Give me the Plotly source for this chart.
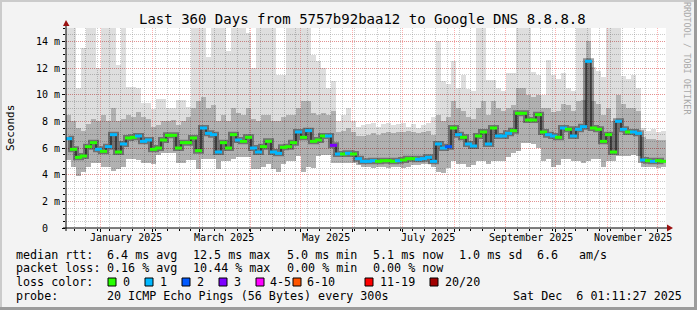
import plotly.graph_objects as go
import pandas as pd

# ---------------- data ----------------
END = pd.Timestamp("2025-12-06 01:11:27")
START = END - pd.Timedelta(days=360)
BIN_DAYS = 3
centers = pd.date_range(START + pd.Timedelta(days=1.5), periods=120, freq="3D")

median_ms = [
    6.7, 5.9, 5.3, 5.4, 6.1, 6.4, 5.9, 5.75, 6.1, 7.0,
    5.7, 6.3, 6.75, 6.8, 6.9, 6.5, 6.6, 5.9, 6.0, 6.6,
    6.95, 6.95, 6.0, 6.4, 6.4, 6.75, 5.8, 7.5, 7.1, 7.0,
    5.7, 6.4, 6.0, 7.0, 6.6, 6.5, 6.8, 6.0, 5.7, 6.1,
    6.5, 5.7, 5.6, 6.05, 6.1, 6.4, 7.2, 6.8, 7.3, 6.5,
    6.6, 6.9, 6.9, 6.2, 5.55, 5.55, 5.6, 5.55, 5.2, 5.0,
    5.0, 5.05, 5.0, 5.05, 5.05, 5.0, 5.05, 5.1, 5.2, 5.2,
    5.15, 5.2, 5.3, 5.0, 6.3, 6.0, 6.1, 7.5, 7.0, 6.8,
    6.3, 6.15, 6.9, 7.2, 6.3, 7.5, 6.9, 6.9, 7.1, 7.3,
    8.6, 8.6, 8.1, 8.1, 8.5, 7.2, 7.0, 6.9, 6.8, 7.5,
    7.4, 6.9, 7.4, 7.6, 12.5, 7.5, 7.4, 6.5, 7.0, 5.7,
    8.0, 7.4, 7.2, 7.2, 7.1, 5.1, 5.05, 5.0, 5.05, 5.0,
]

smoke_max = [
    15, 15, 10.5, 13.5, 15, 15, 12.0, 15, 15, 15,
    12.2, 15, 10.6, 10.6, 10.5, 9.4, 9.4, 8.9, 9.7, 9.7,
    9.0, 9.0, 9.6, 9.6, 9.1, 15, 15, 15, 12.8, 15,
    15, 15, 13.3, 15, 15, 15, 14.6, 12.0, 15, 15,
    15, 15, 11.5, 11.5, 15, 15, 15, 15, 15, 13.0,
    12.5, 12.0, 10.5, 11.0, 8.0, 8.5, 9.0, 8.0, 7.6, 7.7,
    7.8, 7.9, 7.6, 7.8, 7.9, 7.7, 7.8, 7.9, 7.6, 7.8,
    7.5, 7.7, 7.9, 8.3, 14.0, 11.0, 10.8, 12.5, 10.5, 11.5,
    10.4, 10.3, 15, 15, 11.1, 11.1, 10.5, 10.3, 11.6, 11.6,
    15, 15, 15, 11.7, 11.5, 10.0, 12.6, 11.5, 11.2, 11.6,
    10.5, 10.3, 15, 15, 15, 12.1, 11.8, 11.3, 15, 15,
    15, 11.4, 11.2, 11.5, 10.5, 7.5, 7.3, 7.4, 7.2, 7.3,
]

smoke_upper = [
    8.5, 8.0, 7.5, 7.3, 7.8, 8.2, 8.0, 8.5, 8.0, 9.0,
    8.0, 8.2, 8.5, 8.3, 8.7, 8.3, 8.2, 7.6, 7.7, 8.0,
    8.0, 8.1, 7.7, 8.0, 8.3, 9.0, 9.5, 9.8, 9.0, 9.2,
    8.0, 8.5, 8.0, 9.0, 8.6, 8.5, 9.0, 8.2, 8.0, 8.5,
    8.5, 8.0, 8.0, 8.3, 8.5, 8.5, 9.0, 9.5, 9.5, 8.6,
    8.5, 8.6, 8.5, 8.8, 7.2, 7.3, 7.5, 7.2, 6.9, 6.9,
    7.0, 7.1, 7.0, 7.1, 7.2, 7.1, 7.2, 7.2, 7.3, 7.2,
    7.1, 7.2, 7.3, 7.0, 8.5, 8.0, 8.3, 9.5, 9.0, 8.8,
    8.3, 8.2, 9.0, 9.5, 8.5, 9.5, 9.0, 8.8, 9.0, 9.2,
    10.5, 10.5, 10.0, 9.8, 10.0, 9.0, 9.0, 8.7, 8.8, 9.3,
    9.2, 8.8, 9.5, 9.6, 14.0, 9.5, 9.3, 8.5, 9.0, 8.0,
    10.0, 9.3, 9.0, 9.0, 8.8, 6.8, 6.7, 6.7, 6.6, 6.6,
]

smoke_min = [
    5.1, 4.6, 3.9, 4.2, 4.6, 4.9, 4.9, 4.6, 4.6, 4.3,
    4.4, 4.6, 5.2, 5.2, 5.1, 4.9, 4.9, 4.8, 5.5, 5.6,
    5.6, 5.6, 4.9, 4.9, 5.1, 5.1, 4.4, 5.2, 5.2, 5.2,
    4.4, 5.0, 5.0, 5.2, 5.3, 5.3, 5.3, 4.4, 4.4, 4.6,
    4.8, 4.4, 4.2, 4.8, 5.0, 5.0, 5.4, 4.2, 4.6, 4.5,
    5.4, 5.5, 5.5, 4.9, 4.9, 4.9, 4.9, 4.9, 4.7, 4.6,
    4.6, 4.5, 4.6, 4.6, 4.5, 4.6, 4.6, 4.5, 4.6, 4.7,
    4.7, 4.8, 4.8, 4.6, 4.2, 4.1, 4.5, 5.0, 4.8, 4.8,
    4.6, 4.7, 5.0, 5.0, 4.8, 5.0, 5.0, 5.0, 5.3, 5.6,
    5.8, 6.4, 6.4, 6.3, 6.0, 5.0, 5.2, 4.6, 4.7, 5.2,
    5.2, 5.0, 5.0, 4.9, 5.0, 5.2, 5.2, 4.6, 5.0, 5.0,
    5.4, 5.4, 5.4, 5.5, 5.4, 4.6, 4.6, 4.6, 4.5, 4.6,
]

loss_pings = [
    1, 0, 0, 0, 0, 0, 1, 0, 1, 1,
    0, 1, 0, 0, 1, 1, 1, 0, 0, 0,
    0, 0, 0, 0, 0, 0, 0, 1, 1, 1,
    1, 0, 0, 0, 1, 0, 0, 1, 1, 0,
    0, 1, 1, 0, 0, 0, 1, 0, 1, 0,
    0, 0, 1, 3, 1, 0, 1, 0, 1, 1,
    1, 1, 0, 0, 0, 0, 1, 0, 0, 0,
    1, 1, 1, 1, 1, 1, 2, 0, 1, 0,
    1, 1, 0, 0, 1, 0, 1, 1, 1, 0,
    0, 0, 0, 0, 0, 0, 1, 1, 0, 1,
    0, 1, 1, 1, 1, 0, 0, 0, 0, 0,
    1, 1, 0, 1, 1, 1, 0, 1, 0, 0,
]

loss_labels = ["0", "1", "2", "3", "4-5", "6-10", "11-19", "20/20"]
loss_colors = ["#26ff00", "#00b8ff", "#0059ff", "#7e00ff",
               "#ff00ff", "#ff5500", "#ff0000", "#a10000"]

month_label_dates = ["2025-01-16", "2025-03-16", "2025-05-16",
                     "2025-07-16", "2025-09-16", "2025-11-16"]
month_label_text = ["January 2025", "March 2025", "May 2025",
                    "July 2025", "September 2025", "November 2025"]

y_tick_vals = [0, 2, 4, 6, 8, 10, 12, 14]
y_tick_text = ["0\u00a0\u00a0", "2 m", "4 m", "6 m", "8 m", "10 m", "12 m", "14 m"]

title = "Last 360 Days from 5757b92baa12 to Google DNS 8.8.8.8"
rtt_stats = [("median rtt:", 16), ("6.4 ms avg", 107.3), ("12.5 ms max", 193.3),
             ("5.0 ms min", 286.7), ("5.1 ms now", 372.7), ("1.0 ms sd", 459.3),
             ("6.6", 536.7), ("am/s", 579.3)]
loss_stats = [("packet loss:", 16), ("0.16 % avg", 107.3), ("10.44 % max", 193.3),
              ("0.00 % min", 286.7), ("0.00 % now", 372.7)]
probe_text = [("probe:", 16), ("20 ICMP Echo Pings (56 Bytes) every 300s", 107.3),
              ("Sat Dec\u00a0\u00a06 01:11:27 2025", 513.3)]

# ---------------- layout geometry helpers ----------------
W, H = 697, 310
PL, PR, PT, PB = 66, 666, 28, 228
def px(x):
    return (x - PL) / (PR - PL)
def py(y):
    return (PB - y) / (PB - PT)

MONO = "DejaVu Sans Mono"
fig = go.Figure()

bar_w = BIN_DAYS * 86400000
fig.add_trace(go.Bar(x=centers, base=smoke_min,
                     y=[h - l for h, l in zip(smoke_max, smoke_min)],
                     width=bar_w, marker=dict(color="rgba(0,0,0,0.13)", line=dict(width=0))))
fig.add_trace(go.Bar(x=centers, base=smoke_min,
                     y=[h - l for h, l in zip(smoke_upper, smoke_min)],
                     width=bar_w, marker=dict(color="rgba(0,0,0,0.2)", line=dict(width=0))))
fig.add_trace(go.Scatter(x=centers, y=median_ms, mode="lines",
                         line=dict(shape="hvh", width=6, color="rgba(0,0,0,0.36)")))
fig.add_trace(go.Scatter(x=centers, y=median_ms, mode="lines",
                         line=dict(shape="hvh", width=1, color="rgba(0,0,0,0.9)")))
fig.add_trace(go.Scatter(x=centers, y=median_ms, mode="markers",
                         marker=dict(symbol="line-ew", size=5,
                                     line=dict(width=3, color=[loss_colors[v] for v in loss_pings]))))

GRID_RED = "rgba(255,80,80,0.45)"
GRID_GRAY = "rgba(140,140,140,0.45)"
fig.update_layout(
    width=W, height=H,
    margin=dict(l=PL, r=W - PR, t=PT, b=H - PB, pad=0, autoexpand=False),
    paper_bgcolor="#F3F3F3", plot_bgcolor="white",
    showlegend=False, barmode="overlay", bargap=0,
    font=dict(family=MONO, size=10, color="black"),
    xaxis=dict(type="date", range=[START, END], dtick="M1", tick0="2025-01-01",
               showgrid=True, gridcolor=GRID_RED, griddash="1px,1px", gridwidth=1,
               showticklabels=False, ticks="outside", ticklen=3, tickcolor="black",
               zeroline=False, showline=False,
               minor=dict(dtick=7 * 86400000, tick0="2024-12-16", showgrid=True,
                          gridcolor=GRID_GRAY, griddash="1px,1px",
                          ticks="outside", ticklen=2, tickcolor="black")),
    yaxis=dict(range=[0, 15], tickvals=y_tick_vals, ticktext=y_tick_text,
               showgrid=True, gridcolor=GRID_RED, griddash="1px,1px",
               ticks="outside", ticklen=3, tickcolor="black", zeroline=False, showline=False,
               tickfont=dict(family=MONO, size=10),
               minor=dict(dtick=0.5, tick0=0, showgrid=True,
                          gridcolor=GRID_GRAY, griddash="1px,1px",
                          ticks="outside", ticklen=2, tickcolor="black")),
)

shapes = []
# 3D frame
shapes.append(dict(type="rect", xref="paper", yref="paper", x0=px(0), x1=px(W), y0=py(0), y1=py(2),
                   fillcolor="#CBCBCB", line=dict(width=0), layer="below"))
shapes.append(dict(type="rect", xref="paper", yref="paper", x0=px(0), x1=px(2), y0=py(0), y1=py(H),
                   fillcolor="#CBCBCB", line=dict(width=0), layer="below"))
shapes.append(dict(type="rect", xref="paper", yref="paper", x0=px(W - 3), x1=px(W), y0=py(0), y1=py(H),
                   fillcolor="#9C9C9C", line=dict(width=0), layer="below"))
shapes.append(dict(type="rect", xref="paper", yref="paper", x0=px(0), x1=px(W), y0=py(H - 3), y1=py(H),
                   fillcolor="#9C9C9C", line=dict(width=0), layer="below"))
# axes lines
shapes.append(dict(type="line", xref="paper", yref="paper", x0=px(63), x1=px(668), y0=0, y1=0,
                   line=dict(color="black", width=1)))
shapes.append(dict(type="line", xref="paper", yref="paper", x0=0, x1=0, y0=py(231), y1=py(25),
                   line=dict(color="black", width=1)))
# arrows
shapes.append(dict(type="path", xref="paper", yref="paper",
                   path=f"M {px(63)} {py(26)} L {px(69.5)} {py(26)} L {px(66)} {py(20)} Z",
                   fillcolor="#9A1010", line=dict(width=0)))
shapes.append(dict(type="path", xref="paper", yref="paper",
                   path=f"M {px(667)} {py(224.5)} L {px(667)} {py(231.5)} L {px(673)} {py(228)} Z",
                   fillcolor="#9A1010", line=dict(width=0)))
# legend colour boxes
box_x = [108, 145, 182, 219, 256, 293, 365, 430]
text_x = [122.5, 159.5, 196.5, 233.5, 269.5, 307, 379.5, 445]
for bx, col in zip(box_x, loss_colors):
    shapes.append(dict(type="rect", xref="paper", yref="paper",
                       x0=px(bx), x1=px(bx + 8), y0=py(278), y1=py(286),
                       fillcolor=col, line=dict(color="black", width=1)))
fig.update_layout(shapes=shapes)

def note(text, x, y, size=11.7, anchor="left", color="black", angle=0):
    fig.add_annotation(text=text, x=px(x), y=py(y), xref="paper", yref="paper",
                       xanchor=anchor, yanchor="middle", showarrow=False,
                       borderpad=0, borderwidth=0, textangle=angle,
                       font=dict(family=MONO, size=size, color=color))

note(title, 362.5, 19, size=14, anchor="center")
for d, t in zip(month_label_dates, month_label_text):
    fig.add_annotation(text=t, x=d, y=py(237.5), xref="x", yref="paper",
                       xanchor="center", yanchor="middle", showarrow=False,
                       borderpad=0, font=dict(family=MONO, size=10))
for t, x in rtt_stats:
    note(t, x, 254.5)
for t, x in loss_stats:
    note(t, x, 268.3)
note("loss color:", 16, 282)
for t, x in zip(loss_labels, text_x):
    note(t, x, 282)
for t, x in probe_text:
    note(t, x, 296)
note("Seconds", 10, 128, size=11, anchor="center", angle=-90)
note("RRDTOOL / TOBI OETIKER", 687, 58, size=8.5, anchor="center", color="#A8A8A8", angle=90)

fig.write_html("out.html")
